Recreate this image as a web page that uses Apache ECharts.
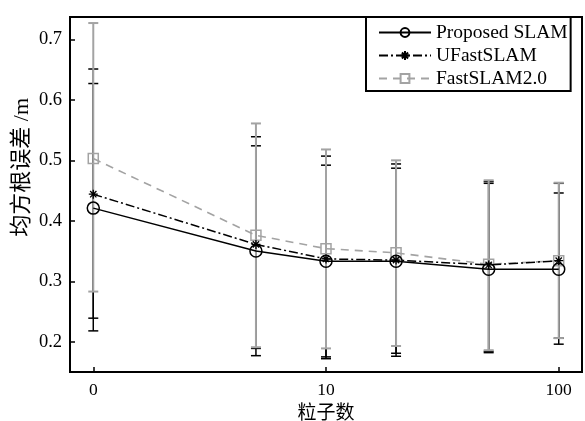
<!DOCTYPE html>
<html>
<head>
<meta charset="utf-8">
<script src="https://cdn.jsdelivr.net/npm/echarts@6/dist/echarts.min.js"></script>
<style>html,body{margin:0;padding:0;background:#fff}#c{width:585px;height:421px}</style>
</head>
<body>
<div id="c"></div>
<script>
const particles = [1, 5, 10, 20, 50, 100];
const xTickValues = [1, 10, 100];
const xTickLabels = ['0', '10', '100'];
const yTickValues = [0.2, 0.3, 0.4, 0.5, 0.6, 0.7];

const seriesNames = ['Proposed SLAM', 'UFastSLAM', 'FastSLAM2.0'];
const proposed     = [0.421, 0.350, 0.333, 0.333, 0.320, 0.320];
const proposedLow  = [0.218, 0.177, 0.175, 0.181, 0.182, 0.196];
const proposedHigh = [0.627, 0.524, 0.492, 0.487, 0.462, 0.446];
const ufast        = [0.444, 0.361, 0.337, 0.335, 0.327, 0.334];
const ufastLow     = [0.239, 0.189, 0.172, 0.176, 0.184, 0.206];
const ufastHigh    = [0.651, 0.539, 0.507, 0.494, 0.465, 0.462];
const fast         = [0.503, 0.376, 0.354, 0.347, 0.328, 0.334];
const fastLow      = [0.283, 0.191, 0.189, 0.193, 0.186, 0.206];
const fastHigh     = [0.727, 0.561, 0.518, 0.500, 0.467, 0.463];

const FONT = "'Liberation Serif', 'Noto Sans CJK SC', serif";
const GRAY = '#a3a3a3';

function pairs(ys) { return particles.map((x, i) => [x, ys[i]]); }
function bars(lo, hi) { return particles.map((x, i) => [x, lo[i], hi[i]]); }

function errorBar(color, width, z) {
  return {
    type: 'custom', z: z, silent: true,
    renderItem: function (params, api) {
      const x = api.value(0);
      const pLo = api.coord([x, api.value(1)]);
      const pHi = api.coord([x, api.value(2)]);
      const hw = 5;
      const style = { stroke: color, lineWidth: width, fill: null };
      return { type: 'group', children: [
        { type: 'line', shape: { x1: pLo[0], y1: pLo[1], x2: pHi[0], y2: pHi[1] }, style: style },
        { type: 'line', shape: { x1: pLo[0] - hw, y1: pLo[1], x2: pLo[0] + hw, y2: pLo[1] }, style: style },
        { type: 'line', shape: { x1: pHi[0] - hw, y1: pHi[1], x2: pHi[0] + hw, y2: pHi[1] }, style: style }
      ]};
    },
    encode: { x: 0, y: [1, 2] }
  };
}

const chart = echarts.init(document.getElementById('c'));
chart.setOption({
  animation: false,
  backgroundColor: '#fff',
  grid: { left: 70, right: 3, top: 17, bottom: 49, show: true, borderColor: '#000', borderWidth: 2,
    backgroundColor: 'transparent', containLabel: false, outerBoundsMode: 'none' },
  legend: {
    data: seriesNames,
    orient: 'vertical',
    left: 366, top: 17,
    padding: [5, 3, 2, 12],
    itemGap: 2,
    itemWidth: 52, itemHeight: 11,
    borderColor: '#000', borderWidth: 2,
    backgroundColor: '#fff',
    textStyle: { fontFamily: FONT, fontSize: 19.5, color: '#000', lineHeight: 21, padding: [0, 0, 0, 0] }
  },
  xAxis: {
    type: 'log', logBase: 10,
    min: 0.7943, max: 125.9,
    name: '粒子数', nameLocation: 'middle', nameGap: 33,
    nameTextStyle: { fontFamily: FONT, fontSize: 19, color: '#000' },
    axisLine: { show: true, lineStyle: { color: '#000', width: 2 } },
    axisTick: { show: true, inside: true, length: 5, customValues: xTickValues, lineStyle: { color: '#000', width: 1.5 } },
    minorTick: { show: false },
    axisLabel: { customValues: xTickValues, margin: 10, fontFamily: FONT, fontSize: 17.5, color: '#000',
      formatter: function (v) { const i = xTickValues.findIndex(t => Math.abs(t - v) < 1e-6 * t); return i >= 0 ? xTickLabels[i] : ''; } },
    splitLine: { show: false }
  },
  yAxis: {
    type: 'value', min: 0.15, max: 0.737,
    axisLine: { show: true, lineStyle: { color: '#000', width: 2 } },
    axisTick: { show: true, inside: true, length: 5, customValues: yTickValues, lineStyle: { color: '#000', width: 1.5 } },
    axisLabel: { customValues: yTickValues, margin: 8, fontFamily: FONT, fontSize: 18.5, color: '#000',
      formatter: function (v) { return v.toFixed(1); } },
    splitLine: { show: false }
  },
  graphic: [{
    type: 'text', left: 11, top: 98, rotation: Math.PI / 2,
    style: { text: '均方根误差 /m', fontFamily: FONT, fontSize: 22, fill: '#000' }
  }],
  series: [
    Object.assign(errorBar('#000', 1.5, 1), { data: bars(proposedLow, proposedHigh) }),
    Object.assign(errorBar('#000', 1.5, 1), { data: bars(ufastLow, ufastHigh) }),
    Object.assign(errorBar(GRAY, 2, 2), { data: bars(fastLow, fastHigh) }),
    {
      name: seriesNames[2], type: 'line', z: 3, data: pairs(fast),
      symbol: 'rect', symbolSize: 10,
      lineStyle: { color: GRAY, width: 1.6, type: [8, 6] },
      itemStyle: { color: 'rgba(255,255,255,0)', borderColor: GRAY, borderWidth: 1.5 }
    },
    {
      name: seriesNames[1], type: 'line', z: 4, data: pairs(ufast),
      symbol: 'path://M0,-5L0,5M-5,0L5,0M-3.5,-3.5L3.5,3.5M-3.5,3.5L3.5,-3.5', symbolSize: 9,
      lineStyle: { color: '#000', width: 1.5, type: [9, 3, 2, 3] },
      itemStyle: { color: 'rgba(255,255,255,0)', borderColor: '#000', borderWidth: 1.3 }
    },
    {
      name: seriesNames[0], type: 'line', z: 5, data: pairs(proposed),
      symbol: 'circle', symbolSize: 12,
      lineStyle: { color: '#000', width: 1.5 },
      itemStyle: { color: 'rgba(255,255,255,0)', borderColor: '#000', borderWidth: 1.5 }
    }
  ]
});
</script>
</body>
</html>
